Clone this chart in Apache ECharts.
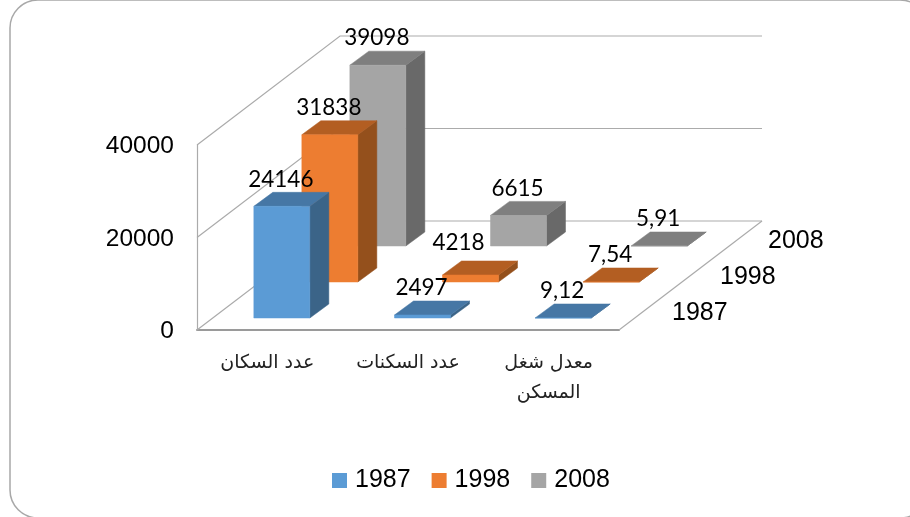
<!DOCTYPE html>
<html>
<head>
<meta charset="utf-8">
<style>
html,body{margin:0;padding:0;background:#fff;}
#container{width:910px;height:517px;}
</style>
<script src="https://cdn.jsdelivr.net/npm/echarts@6/dist/echarts.min.js"></script>
</head>
<body>
<div id="container"></div>
<script>
var categories = ['عدد السكان','عدد السكنات','معدل شغل\nالمسكن'];
var years = ['1987','1998','2008'];
// bar heights (the small bars are drawn much lower than their printed labels)
var values1987 = [24146, 650, 9.12];
var values1998 = [31838, 1520, 7.54];
var values2008 = [39098, 6615, 5.91];
// printed data labels
var labels1987 = ['24146','2497','9,12'];
var labels1998 = ['31838','4218','7,54'];
var labels2008 = ['39098','6615','5,91'];
var yTicks = [0, 20000, 40000];

var allValues = [values1987, values1998, values2008];
var allLabels = [labels1987, labels1998, labels2008];

var faceColors = [
	{front:'#5b9bd5', top:'#4677a5', side:'#3b6488'},
	{front:'#ed7d31', top:'#b35e22', side:'#94501c'},
	{front:'#a5a5a5', top:'#7f7f7f', side:'#696969'}
];

// projection of the fake 3d box, in pixels
var wallDepth = [143, -109];
var slotStep = [48, -36];
var barDepth = [19, -14];
var barWidth = 56;
var firstSlot = [-13.5, -12];

function slotBase(api, cat, slot) {
	var p = api.coord([cat, 0]);
	return [p[0] + firstSlot[0] + slot * slotStep[0], p[1] + firstSlot[1] + slot * slotStep[1]];
}

function poly(points, color) {
	return {type:'polygon', shape:{points:points}, style:{fill:color, stroke:color, lineWidth:0.5}};
}

function renderBar(slot) {
	return function(params, api) {
		var cat = api.value(0);
		var base = slotBase(api, cat, slot);
		var h = api.coord([cat, 0])[1] - api.coord([cat, api.value(1)])[1];
		var x0 = base[0], x1 = base[0] + barWidth, yb = base[1], yt = base[1] - h;
		var dx = barDepth[0], dy = barDepth[1];
		var c = faceColors[slot];
		return {type:'group', children:[
			poly([[x1,yb],[x1+dx,yb+dy],[x1+dx,yt+dy],[x1,yt]], c.side),
			poly([[x0,yt],[x1,yt],[x1+dx,yt+dy],[x0+dx,yt+dy]], c.top),
			poly([[x0,yb],[x1,yb],[x1,yt],[x0,yt]], c.front)
		]};
	};
}

function renderLabel(slot) {
	return function(params, api) {
		var cat = api.value(0);
		var base = slotBase(api, cat, slot);
		var h = api.coord([cat, 0])[1] - api.coord([cat, api.value(1)])[1];
		var txt = allLabels[slot][cat];
		// 4218 sits off its bar in the original
		var nudge = txt === '4218' ? [-12, -5] : [-1, 0];
		return {type:'text', style:{
			text:txt, x:base[0] + barWidth/2 + nudge[0], y:base[1] - h - 27 + nudge[1],
			align:'center', verticalAlign:'middle',
			font:'22.5px Lato, "Noto Sans", sans-serif', fill:'#000'
		}};
	};
}

function renderWall(params, api) {
	var cs = params.coordSys;
	var y = api.coord([0, api.value(0)])[1];
	var dx = wallDepth[0], dy = wallDepth[1];
	var style = {stroke:'#ababab', lineWidth:1.2, fill:null};
	var pts = [[cs.x, y],[cs.x+dx, y+dy],[cs.x+cs.width+dx, y+dy]];
	var children = [{type:'polyline', shape:{points:pts}, style:style}];
	if (api.value(0) === 0) {
		children.push({type:'line', shape:{x1:cs.x+cs.width, y1:y, x2:cs.x+cs.width+dx, y2:y+dy}, style:style});
	}
	return {type:'group', children:children};
}

function renderDepthLabel(params, api) {
	var slot = params.dataIndex;
	var cs = params.coordSys;
	return {type:'text', style:{
		text:years[slot],
		x:cs.x + cs.width + 53 + slot * slotStep[0], y:cs.y + cs.height - 17 + slot * slotStep[1],
		align:'left', verticalAlign:'middle',
		font:'25px "Liberation Sans", Arial, sans-serif', fill:'#000'
	}};
}

var series = [
	{name:'walls', type:'custom', renderItem:renderWall, data:yTicks, encode:{y:0}, z:1, silent:true, clip:false},
	{name:'depthLabels', type:'custom', renderItem:renderDepthLabel, data:years.map(function(y,i){return [i,0];}), z:2, silent:true, clip:false}
];
years.forEach(function(year, i) {
	var rows = allValues[i].map(function(v, c){ return [c, v]; });
	series.push({name:year, type:'custom', renderItem:renderBar(i), data:rows, z:12-i, silent:true, clip:false,
		itemStyle:{color:faceColors[i].front}});
	series.push({name:'label'+year, type:'custom', renderItem:renderLabel(i), data:rows, z:20, silent:true, clip:false});
});

var myChart = echarts.init(document.getElementById('container'), null, {renderer:'canvas'});
var option = {
	animation:false,
	backgroundColor:'#fff',
	graphic:[{type:'rect', z:-10, shape:{x:10, y:0, width:918, height:518, r:28},
		style:{fill:'#fff', stroke:'#a8a8a8', lineWidth:1.5}}],
	grid:{left:197, top:145, width:422, height:185},
	legend:{
		data:years, left:332, top:468, padding:0, itemWidth:15, itemHeight:15, itemGap:21, icon:'rect',
		textStyle:{fontFamily:'"Liberation Sans", Arial, sans-serif', fontSize:25, color:'#000', padding:[0,0,0,3]}
	},
	xAxis:{
		type:'category', data:categories,
		axisLine:{lineStyle:{color:'#9a9a9a', width:2}}, axisTick:{show:false},
		axisLabel:{interval:0, margin:18, lineHeight:30, fontSize:19, color:'#222', fontFamily:'"DejaVu Sans", "Liberation Sans", sans-serif'}
	},
	yAxis:{
		type:'value', min:0, max:40000, interval:20000,
		splitLine:{show:false}, axisTick:{show:false},
		axisLine:{show:true, lineStyle:{color:'#ababab', width:1.2}},
		axisLabel:{margin:23, fontSize:24.5, color:'#000', verticalAlign:'top', lineHeight:3, fontFamily:'"Liberation Sans", Arial, sans-serif',
			formatter:function(v){ return String(v); }}
	},
	series:series
};
myChart.setOption(option);
</script>
</body>
</html>
